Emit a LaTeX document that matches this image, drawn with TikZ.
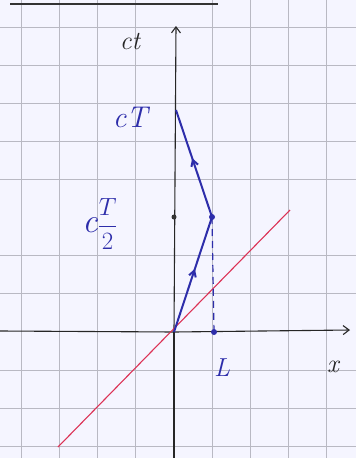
\documentclass[tikz,border=0pt]{standalone}
\usetikzlibrary{arrows.meta,decorations.markings}
\definecolor{pen}{RGB}{45,45,170}
\definecolor{redpen}{RGB}{220,50,85}
\definecolor{gridc}{RGB}{185,185,195}
\tikzset{
  axis/.style={line width=1.1pt,black!85,-{Straight Barb[length=6pt,width=9pt]}},
  blueline/.style={line width=2pt,pen,postaction={decorate},
    decoration={markings,mark=at position 0.55 with {\arrow{Straight Barb[length=6pt,width=7pt]}}}},
  lbl/.style={font=\fontsize{26}{28}\selectfont\itshape,inner sep=0pt},
  dot/.style={circle,fill,inner sep=0pt,minimum size=5pt}
}
\begin{document}
\begin{tikzpicture}[x=1pt,y=-1pt]
\useasboundingbox (0,0) rectangle (356,458);
\fill[white!96!blue] (0,0) rectangle (356,458);
% grid
\foreach \gx in {21,59,97,135,212,250,288,326}
  \draw[gridc,line width=0.6pt] (\gx,0) -- (\gx,458);
\foreach \gy in {27,65,103,141,179,255,293,370,408,446}
  \draw[gridc,line width=0.6pt] (0,\gy) -- (356,\gy);
% top ruling
\draw[line width=2.5pt,black!80] (10,4) -- (218,4);
% named points
\coordinate (O) at (174,332);
\coordinate (ytop) at (176,26);
\coordinate (ybot) at (174,458);
\coordinate (xl) at (0,331);
\coordinate (xr) at (350,330);
\coordinate (P) at (212,217);
\coordinate (Q) at (176,110);
\coordinate (R1) at (58,447);
\coordinate (R2) at (290,210);
% axes
\draw[line width=1.1pt,black!85] (ybot) -- (O);
\draw[axis] (O) -- (ytop);
\draw[line width=1.1pt,black!85] (xl) -- (O);
\draw[axis] (O) -- (xr);
% red line
\draw[redpen,line width=1.1pt] (R1) -- (R2);
% dashed
\draw[pen,line width=1.2pt,dash pattern=on 7pt off 5pt] (P) -- (214,332);
% blue path
\draw[blueline] (O) -- (P);
\draw[blueline] (P) -- (Q);
% dots
\node[dot,black!80] (tick) at (174,217) {};
\node[dot,pen,minimum size=6pt] (Lpt) at (214,332) {};
\node[dot,pen,minimum size=6pt] (Ppt) at (212,217) {};
% labels
\node[lbl,black!85] (ct) at (130,42) {ct};
\node[lbl,black!85] (x) at (333,367) {x};
\node[lbl,pen] (L) at (222,368) {L};
\node[lbl,pen,font=\fontsize{30}{32}\selectfont\itshape] (cT) at (130,117) {cT};
\node[lbl,pen,font=\fontsize{34}{36}\selectfont\itshape] (cT2) at (100,224) {c$\displaystyle\frac{T}{2}$};
\end{tikzpicture}
\end{document}
